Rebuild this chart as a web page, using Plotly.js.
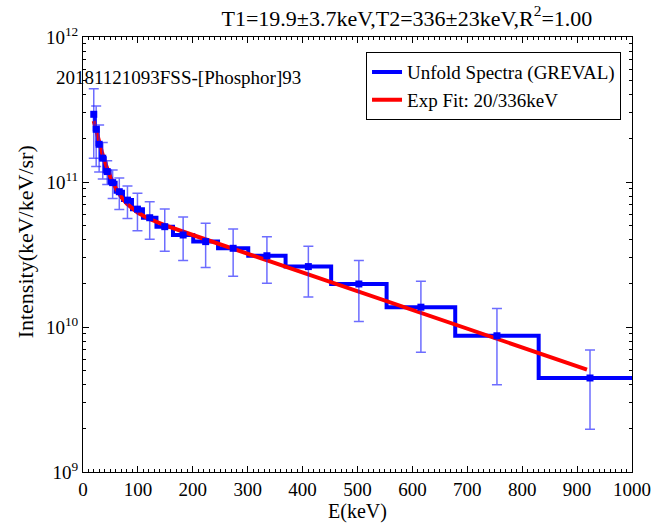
<!DOCTYPE html>
<html><head><meta charset="utf-8">
<script src="https://cdn.plot.ly/plotly-3.0.1.min.js"></script>
<style>html,body{margin:0;padding:0;background:#fff}</style>
</head><body><div id="chart" style="width:663px;height:526px"></div>
<script>
// Unfolded spectrum bins (keV)
const binEdges = [17.6, 21.5, 26.4, 32.3, 39.6, 48.5, 59.4, 72.8, 89.2, 109.2, 133.8, 163.9, 200.8, 246, 301, 369, 452, 553, 678, 830, 1017];
const binCenters = [19.6, 24.0, 29.4, 36.0, 44.1, 54.0, 66.1, 81.0, 99.2, 121.5, 148.9, 182.4, 223.4, 273.5, 335, 410.5, 502.5, 615.5, 754, 923.5];
const intensity = [2.93e11, 2.31e11, 1.82e11, 1.46e11, 1.18e11, 9.9e10, 8.57e10, 7.5e10, 6.5e10, 5.67e10, 4.92e10, 4.31e10, 3.88e10, 3.49e10, 3.10e10, 2.61e10, 1.98e10, 1.37e10, 8.7e9, 4.45e9];
const intensityErr = [1.47e11, 1.03e11, 6.5e10, 4.1e10, 2.2e10, 2.2e10, 2.1e10, 1.9e10, 1.88e10, 1.64e10, 1.59e10, 1.43e10, 1.31e10, 1.25e10, 1.10e10, 1.0e10, 8.9e9, 7.0e9, 4.7e9, 2.48e9];
// Exponential fit curve
const fitE = [19.6, 25, 30, 35, 40, 50, 60, 70, 80, 100, 120, 150, 200, 300, 400, 500, 600, 700, 800, 918];
const fitI = [2.63e11, 2.17e11, 1.83e11, 1.58e11, 1.37e11, 1.08e11, 9.01e10, 7.84e10, 7.06e10, 6.13e10, 5.58e10, 5.03e10, 4.31e10, 3.20e10, 2.375e10, 1.764e10, 1.31e10, 9.73e9, 7.22e9, 5.09e9];
const xTickVals = [0, 100, 200, 300, 400, 500, 600, 700, 800, 900, 1000];
const yTickVals = [1e9, 1e10, 1e11, 1e12];
const yTickText = ['10<sup>9</sup>', '10<sup>10</sup>', '10<sup>11</sup>', '10<sup>12</sup>'];

const stepY = intensity.concat([intensity[intensity.length - 1]]);
const FONT = 'Liberation Serif, Times New Roman, serif';

const traces = [
  {x: binEdges, y: stepY, mode: 'lines', line: {shape: 'hv', color: '#0000ff', width: 4},
   name: 'Unfold Spectra (GREVAL)', showlegend: true, hoverinfo: 'skip'},
  {x: fitE, y: fitI, mode: 'lines', line: {color: '#ff0000', width: 4},
   name: 'Exp Fit: 20/336keV', showlegend: true},
  {x: binCenters, y: intensity, mode: 'markers',
   marker: {symbol: 'square', size: 7, color: '#0000ff'},
   error_y: {type: 'data', array: intensityErr, visible: true, color: 'rgba(30,30,255,0.65)', thickness: 1.5, width: 5},
   showlegend: false}
];

const layout = {
  width: 663, height: 526,
  margin: {l: 83, r: 31, t: 37, b: 54},
  paper_bgcolor: '#fff', plot_bgcolor: '#fff',
  font: {family: FONT, size: 19, color: '#000'},
  title: {text: 'T1=19.9±3.7keV,T2=336±23keV,R<sup>2</sup>=1.00', font: {family: FONT, size: 22, color: '#000'},
          x: 0.59, xref: 'paper', xanchor: 'center', y: 0.966, yanchor: 'middle'},
  xaxis: {range: [0, 1000], tickvals: xTickVals, ticks: 'inside', ticklen: 6, tickcolor: '#000',
          showline: true, linecolor: '#000', linewidth: 1, mirror: 'ticks', showgrid: false, zeroline: false,
          minor: {dtick: 10, ticks: 'inside', ticklen: 3, tickcolor: '#000', showgrid: false},
          tickfont: {family: FONT, size: 19},
          title: {text: 'E(keV)', font: {family: FONT, size: 20}, standoff: 2}},
  yaxis: {type: 'log', range: [9, 12], tickvals: yTickVals, ticktext: yTickText, ticks: 'inside', ticklen: 6, tickcolor: '#000',
          showline: true, linecolor: '#000', linewidth: 1, mirror: 'ticks', showgrid: false, zeroline: false,
          minor: {dtick: 'D1', ticks: 'inside', ticklen: 3, tickcolor: '#000', showgrid: false},
          tickfont: {family: FONT, size: 19}},
  legend: {x: 0.98, xanchor: 'right', y: 0.965, yanchor: 'top', bgcolor: '#fff', bordercolor: '#000', borderwidth: 1,
           font: {family: FONT, size: 19}, tracegroupgap: 0},
  annotations: [
    {text: '20181121093FSS-[Phosphor]93', xref: 'paper', yref: 'paper', x: -0.052, y: 0.908,
     xanchor: 'left', yanchor: 'middle', showarrow: false, font: {family: FONT, size: 19, color: '#000'}},
    {text: 'Intensity(keV/keV/sr)', xref: 'paper', yref: 'paper', x: -0.104, y: 0.53, textangle: -90,
     xanchor: 'center', yanchor: 'middle', showarrow: false, font: {family: FONT, size: 22, color: '#000'}}
  ],
  showlegend: true
};

Plotly.newPlot('chart', traces, layout, {displayModeBar: false, staticPlot: true});
</script></body></html>
